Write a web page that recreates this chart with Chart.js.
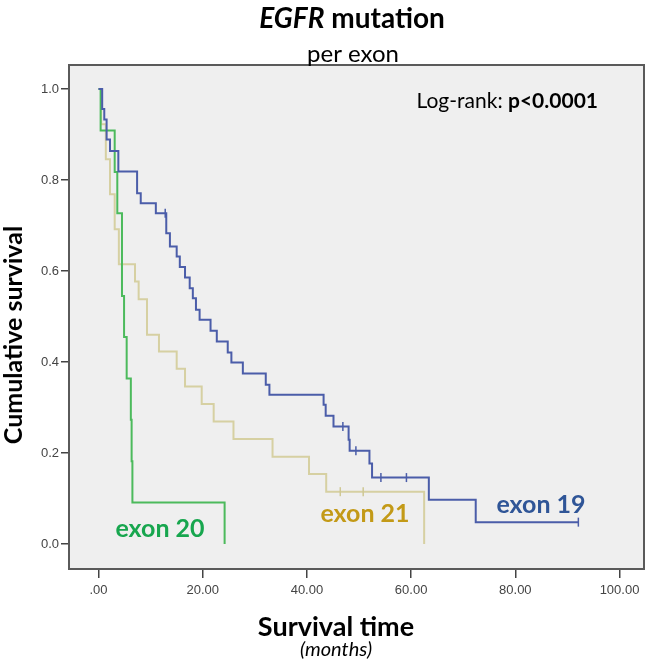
<!DOCTYPE html>
<html>
<head>
<meta charset="utf-8">
<script src="https://cdn.jsdelivr.net/npm/chart.js@4.4.1/dist/chart.umd.min.js"></script>
<style>
  html, body { margin: 0; padding: 0; background: #fff; }
  canvas { display: block; }
</style>
</head>
<body>
<canvas id="kmChart" width="650" height="659"></canvas>
<script>
// Kaplan-Meier steps: time in months, survival after the event
const exon19Time = [0, 0.7, 1.1, 1.55, 2.2, 3.8, 7.4, 8.1, 11.0, 13.0, 13.7, 15.0, 15.6, 16.6, 17.5, 18.1, 18.7, 19.4, 21.5, 22.7, 24.8, 25.5, 27.7, 32.1, 32.8, 43.2, 43.6, 45.1, 48.0, 48.2, 52.0, 52.5, 63.4, 72.4, 92.2];
const exon19Surv = [1.0, 0.956, 0.933, 0.889, 0.864, 0.819, 0.771, 0.749, 0.727, 0.683, 0.654, 0.632, 0.609, 0.586, 0.562, 0.540, 0.515, 0.493, 0.469, 0.445, 0.421, 0.399, 0.375, 0.350, 0.328, 0.306, 0.282, 0.258, 0.229, 0.205, 0.177, 0.146, 0.097, 0.048, 0.048];
const exon19CensorTime = [12.8, 46.9, 49.4, 54.2, 59.1, 92.1];
const exon19CensorSurv = [0.727, 0.258, 0.205, 0.146, 0.146, 0.048];

const exon21Time = [0, 0.5, 1.4, 2.2, 3.1, 3.9, 7.0, 7.7, 9.3, 11.6, 15.0, 16.6, 19.8, 22.1, 25.9, 33.4, 40.4, 43.7, 62.5];
const exon21Surv = [1.0, 0.923, 0.846, 0.769, 0.692, 0.615, 0.577, 0.538, 0.460, 0.423, 0.385, 0.346, 0.308, 0.269, 0.231, 0.192, 0.154, 0.115, 0.0];
const exon21CensorTime = [46.4, 50.8];
const exon21CensorSurv = [0.115, 0.115];

const exon20Time = [0, 0.4, 3.1, 3.6, 4.5, 4.9, 5.4, 6.2, 6.35, 6.5, 24.2];
const exon20Surv = [1.0, 0.909, 0.818, 0.727, 0.545, 0.455, 0.364, 0.273, 0.182, 0.091, 0.0];

const xTicks = [0, 20, 40, 60, 80, 100];
const yTicks = [0, 0.2, 0.4, 0.6, 0.8, 1.0];

function pts(xs, ys) {
    return xs.map((x, i) => ({ x: x, y: ys[i] }));
}

const lbl = "'Lato', 'Open Sans', sans-serif";

// grey plot panel, frame and all the annotation text
const kmFrame = {
    id: 'kmFrame',
    beforeDatasetsDraw(chart) {
        const { ctx, chartArea: a } = chart;
        ctx.save();
        ctx.fillStyle = '#efefef';
        ctx.fillRect(a.left, a.top, a.right - a.left, a.bottom - a.top);
        ctx.restore();
    },
    afterDraw(chart) {
        const { ctx, chartArea: a } = chart;
        ctx.save();
        ctx.strokeStyle = '#5a5a5a';
        ctx.lineWidth = 2;
        ctx.strokeRect(a.left, a.top, a.right - a.left, a.bottom - a.top);

        // title
        ctx.fillStyle = '#000';
        ctx.textBaseline = 'alphabetic';
        ctx.font = 'italic bold 28px ' + lbl;
        const w1 = ctx.measureText('EGFR').width;
        ctx.font = 'bold 28px ' + lbl;
        const w2 = ctx.measureText(' mutation').width;
        let x0 = 352 - (w1 + w2) / 2;
        ctx.textAlign = 'left';
        ctx.font = 'italic bold 28px ' + lbl;
        ctx.fillText('EGFR', x0, 28);
        ctx.font = 'bold 28px ' + lbl;
        ctx.fillText(' mutation', x0 + w1, 28);

        ctx.textAlign = 'center';
        ctx.font = '24px ' + lbl;
        ctx.fillText('per exon', 353, 62);

        // log-rank
        ctx.textAlign = 'right';
        ctx.font = 'bold 21px ' + lbl;
        ctx.fillText('p<0.0001', 598, 108);
        const wp = ctx.measureText('p<0.0001').width;
        ctx.font = '21px ' + lbl;
        ctx.fillText('Log-rank: ', 598 - wp, 108);

        // curve labels
        ctx.textAlign = 'center';
        ctx.font = 'bold 25px ' + lbl;
        ctx.fillStyle = '#17a64e';
        ctx.fillText('exon 20', 160, 537);
        ctx.fillStyle = '#c39a17';
        ctx.fillText('exon 21', 365, 522);
        ctx.fillStyle = '#2f5597';
        ctx.fillText('exon 19', 541, 513);

        // axis titles
        ctx.fillStyle = '#000';
        ctx.font = 'bold 27px ' + lbl;
        ctx.fillText('Survival time', 336, 636);
        ctx.font = 'italic 20px ' + lbl;
        ctx.fillText('(months)', 336, 656);

        ctx.translate(22, 335);
        ctx.rotate(-Math.PI / 2);
        ctx.font = 'bold 25px ' + lbl;
        ctx.fillText('Cumulative survival', 0, 0);
        ctx.restore();
    }
};

new Chart(document.getElementById('kmChart').getContext('2d'), {
    type: 'line',
    data: {
        datasets: [
            {
                label: 'exon 19',
                data: pts(exon19Time, exon19Surv),
                borderColor: '#4b5da9',
                borderWidth: 2,
                stepped: true,
                pointRadius: 0,
                order: 1
            },
            {
                label: 'exon 19 censored',
                data: pts(exon19CensorTime, exon19CensorSurv),
                showLine: false,
                pointStyle: 'line',
                rotation: 90,
                pointRadius: 4.5,
                borderColor: '#4b5da9',
                borderWidth: 1.5,
                order: 0
            },
            {
                label: 'exon 21',
                data: pts(exon21Time, exon21Surv),
                borderColor: '#d6d0a2',
                borderWidth: 2,
                stepped: true,
                pointRadius: 0,
                order: 3
            },
            {
                label: 'exon 21 censored',
                data: pts(exon21CensorTime, exon21CensorSurv),
                showLine: false,
                pointStyle: 'line',
                rotation: 90,
                pointRadius: 4.5,
                borderColor: '#cfc894',
                borderWidth: 1.5,
                order: 2
            },
            {
                label: 'exon 20',
                data: pts(exon20Time, exon20Surv),
                borderColor: '#4cba5c',
                borderWidth: 2,
                stepped: true,
                pointRadius: 0,
                order: 2
            }
        ]
    },
    options: {
        responsive: false,
        animation: false,
        layout: { padding: { top: 65, right: 5, left: 0, bottom: 0 } },
        plugins: {
            legend: { display: false },
            tooltip: { enabled: false }
        },
        scales: {
            x: {
                type: 'linear',
                min: -5.67,
                max: 104.7,
                afterBuildTicks: s => { s.ticks = xTicks.map(v => ({ value: v })); },
                afterFit: s => { s.height = 90; },
                border: { display: false },
                grid: { drawOnChartArea: false, drawTicks: true, tickLength: 9, color: '#444', lineWidth: 1.5 },
                ticks: {
                    color: '#444',
                    padding: 5,
                    font: { family: 'Liberation Sans', size: 13 },
                    maxRotation: 0,
                    callback: v => v === 0 ? '.00' : v.toFixed(2)
                }
            },
            y: {
                min: -0.055,
                max: 1.053,
                afterBuildTicks: s => { s.ticks = yTicks.map(v => ({ value: v })); },
                afterFit: s => { s.width = 69; },
                border: { display: false },
                grid: { drawOnChartArea: false, drawTicks: true, tickLength: 8, color: '#444', lineWidth: 1.5 },
                ticks: {
                    color: '#444',
                    padding: 2,
                    font: { family: 'Liberation Sans', size: 13 },
                    callback: v => v.toFixed(1)
                }
            }
        }
    },
    plugins: [kmFrame]
});
</script>
</body>
</html>
